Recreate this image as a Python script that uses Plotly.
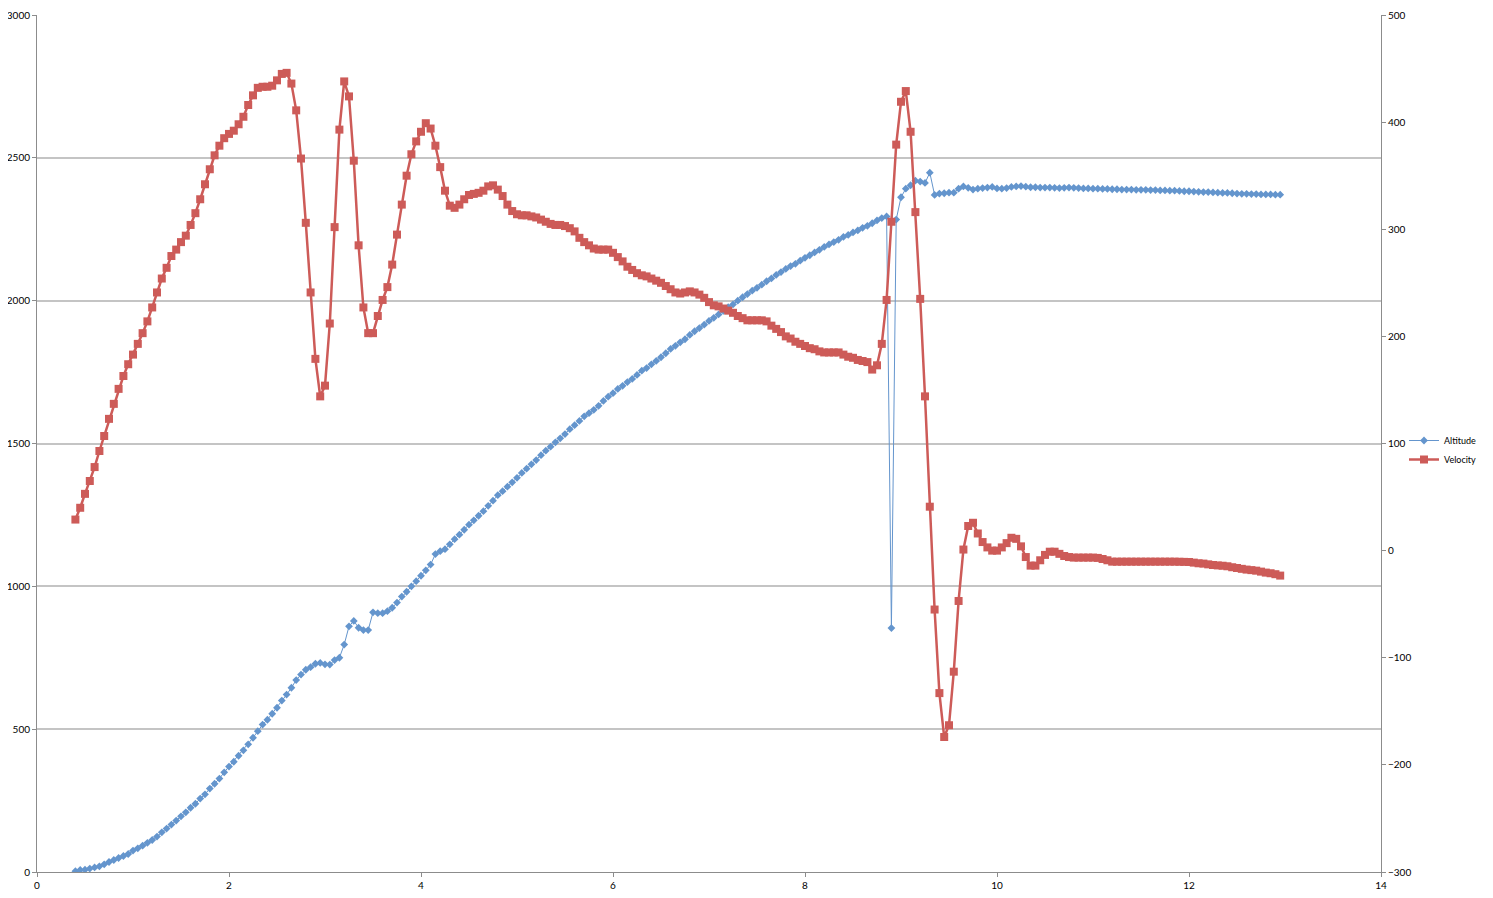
import numpy as np
import plotly.graph_objects as go

# time axis (s), sampled every 0.05 from 0.40 to 12.95
time = [round(0.40 + 0.05 * i, 2) for i in range(252)]

altitude = [
    3, 7, 8, 12, 16, 20, 27, 35, 42, 49, 56, 63,
    75, 83, 92, 102, 112, 124, 139, 152, 166, 180, 195, 209, 225, 239, 257, 272, 292, 309, 327, 349,
    369, 386, 407, 426, 447, 470, 493, 516, 533, 554, 575, 600, 621, 645, 672, 691, 708, 717, 729, 732,
    727, 726, 742, 750, 796, 860, 879, 855, 847, 847, 909, 906, 906, 913, 925, 943, 964, 981, 1000, 1018,
    1037, 1056, 1076, 1113, 1123, 1130, 1147, 1165, 1181, 1198, 1216, 1231, 1247, 1263, 1282, 1300, 1319, 1333, 1349, 1364,
    1380, 1397, 1412, 1427, 1442, 1459, 1475, 1489, 1504, 1518, 1533, 1550, 1564, 1579, 1595, 1606, 1618, 1632, 1649, 1664,
    1676, 1691, 1702, 1715, 1726, 1740, 1755, 1764, 1777, 1789, 1802, 1816, 1831, 1842, 1854, 1865, 1880, 1893, 1904, 1916,
    1929, 1940, 1952, 1964, 1977, 1987, 2000, 2012, 2023, 2035, 2045, 2056, 2068, 2078, 2090, 2100, 2111, 2121, 2129, 2140,
    2150, 2159, 2169, 2178, 2188, 2197, 2205, 2213, 2223, 2230, 2239, 2246, 2255, 2262, 2271, 2281, 2289, 2295, 854, 2284,
    2362, 2392, 2404, 2420, 2417, 2412, 2448, 2370, 2375, 2376, 2378, 2378, 2392, 2400, 2395, 2389, 2392, 2394, 2396, 2398,
    2393, 2392, 2394, 2398, 2400, 2401, 2399, 2397, 2397, 2396, 2396, 2396, 2395, 2394, 2395, 2396, 2395, 2394, 2393, 2393,
    2392, 2392, 2391, 2391, 2390, 2390, 2389, 2389, 2389, 2388, 2388, 2388, 2387, 2387, 2386, 2386, 2385, 2385, 2384, 2383,
    2383, 2382, 2381, 2380, 2380, 2379, 2378, 2377, 2377, 2376, 2375, 2374, 2374, 2373, 2373, 2372, 2372, 2372, 2371, 2371,
]

velocity = [
    29, 40, 53, 65, 78, 93, 107, 123, 137, 151, 163, 174,
    183, 193, 203, 214, 227, 241, 254, 264, 275, 281, 288, 294, 304, 315, 328, 342, 356, 369, 378, 385,
    389, 392, 398, 405, 416, 425, 432, 433, 433, 434, 439, 445, 446, 436, 411, 366, 306, 241, 179, 144,
    154, 212, 302, 393, 438, 424, 364, 285, 227, 203, 203, 219, 234, 246, 267, 295, 323, 350, 370, 382,
    391, 399, 394, 378, 358, 336, 322, 320, 323, 328, 332, 333, 334, 336, 340, 341, 337, 331, 323, 317,
    314, 313, 313, 312, 311, 309, 307, 305, 304, 304, 303, 301, 298, 292, 288, 285, 282, 281, 281, 281,
    278, 274, 270, 265, 262, 259, 257, 256, 254, 252, 250, 247, 244, 241, 240, 241, 242, 241, 239, 236,
    232, 229, 228, 226, 224, 222, 219, 217, 215, 215, 215, 215, 214, 210, 207, 204, 200, 198, 195, 193,
    191, 189, 188, 186, 185, 185, 185, 185, 183, 181, 180, 178, 177, 176, 169, 173, 193, 234, 307, 379,
    419, 429, 391, 316, 235, 144, 41, -55, -133, -174, -163, -113, -47, 1, 23, 26, 16, 8, 3, 0,
    0, 3, 7, 12, 11, 4, -6, -14, -14, -9, -4, -1, -1, -3, -5, -6, -6.5, -6.5, -6.5, -6.5,
    -6.5, -6.8, -7.8, -9, -10.3, -10.3, -10.3, -10.3, -10.3, -10.3, -10.3, -10.3, -10.3, -10.3, -10.3, -10.3, -10.3, -10.3, -10.4, -10.5,
    -10.6, -11.2, -11.8, -12.1, -12.8, -13.4, -13.8, -14.1, -14.6, -15.5, -16.2, -17.0, -17.7, -18.2, -18.7, -19.6, -20.5, -21.1, -22.0, -23.3,
]

x_ticks = [0, 2, 4, 6, 8, 10, 12, 14]
alt_ticks = [0, 500, 1000, 1500, 2000, 2500, 3000]
vel_ticks = [-300, -200, -100, 0, 100, 200, 300, 400, 500]

BLUE = "#6495CD"
RED = "#CD5B58"
AXIS = "#8C8C8C"
GRID = "#C4C4C4"
FONT = "Lato"

fig = go.Figure()
fig.add_trace(go.Scatter(
    x=time, y=altitude, name="Altitude", mode="lines+markers",
    line=dict(color=BLUE, width=1),
    marker=dict(symbol="diamond", size=6, color=BLUE),
))
fig.add_trace(go.Scatter(
    x=time, y=velocity, name="Velocity", mode="lines+markers", yaxis="y2",
    line=dict(color=RED, width=2.5),
    marker=dict(symbol="square", size=8, color=RED),
))

# page body adds an 8px offset, so the figure is sized to fit the window
W, H = 1485, 890
L, T = 29, 7
pw, ph = 1344, 857
R, B = W - L - pw, H - T - ph

fig.update_layout(
    width=W, height=H,
    margin=dict(l=L, r=R, t=T, b=B, autoexpand=False),
    paper_bgcolor="white", plot_bgcolor="white",
    font=dict(family=FONT, size=10, color="black"),
    showlegend=True,
    legend=dict(
        x=(1396 - L) / pw, y=(H - B - 442) / ph, xanchor="left", yanchor="middle",
        font=dict(size=9, family=FONT), bgcolor="rgba(0,0,0,0)",
        itemwidth=30, tracegroupgap=2,
    ),
    xaxis=dict(
        range=[0, 14], tickvals=x_ticks, showgrid=False, zeroline=False, automargin=False,
        showline=True, linecolor=AXIS, linewidth=1,
        ticks="outside", ticklen=4, tickcolor=AXIS, tickfont=dict(size=10),
    ),
    yaxis=dict(
        range=[0, 3000], tickvals=alt_ticks, showgrid=True, gridcolor=GRID, gridwidth=1.5,
        zeroline=False, showline=True, linecolor=AXIS, linewidth=1, automargin=False,
        ticks="outside", ticklen=4, tickcolor=AXIS, tickfont=dict(size=10),
    ),
    yaxis2=dict(
        range=[-300, 500], tickvals=vel_ticks, overlaying="y", side="right",
        showgrid=False, zeroline=False, showline=True, linecolor=AXIS, linewidth=1, automargin=False,
        ticks="outside", ticklen=4, tickcolor=AXIS, tickfont=dict(size=10),
    ),
)

fig.write_html("out.html")
